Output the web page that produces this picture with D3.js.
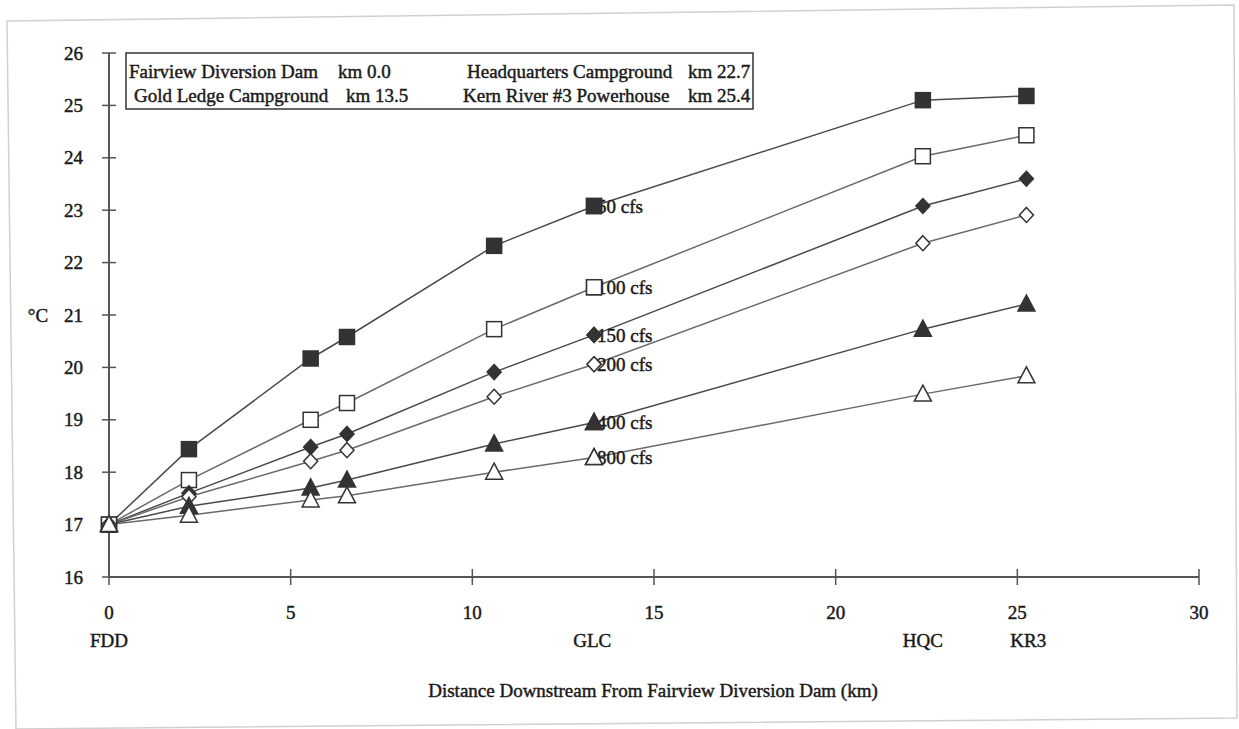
<!DOCTYPE html>
<html>
<head>
<meta charset="utf-8">
<script src="https://cdn.jsdelivr.net/npm/d3@7"></script>
<style>
  html, body { margin: 0; padding: 0; background: #fff; }
  svg text {
    font-family: "Liberation Serif", "DejaVu Serif", serif;
    font-size: 19px;
    fill: #1a1a1a;
    stroke: #1a1a1a;
    stroke-width: 0.45px;
  }
</style>
</head>
<body>
<div id="chart"></div>
<script>
// distance downstream (km) of sampling points
var distances = [0, 2.2, 5.55, 6.55, 10.6, 13.35, 22.4, 25.25];

// temperature (deg C) for each flow
var flows = ['50 cfs', '100 cfs', '150 cfs', '200 cfs', '400 cfs', '800 cfs'];
var t50  = [17.0, 18.44, 20.17, 20.58, 22.32, 23.08, 25.1, 25.18];
var t100 = [17.0, 17.85, 19.0, 19.32, 20.73, 21.53, 24.03, 24.43];
var t150 = [17.0, 17.6, 18.48, 18.73, 19.91, 20.62, 23.08, 23.6];
var t200 = [17.0, 17.53, 18.21, 18.42, 19.44, 20.06, 22.37, 22.91];
var t400 = [17.0, 17.35, 17.7, 17.85, 18.54, 18.95, 20.73, 21.21];
var t800 = [17.0, 17.18, 17.47, 17.55, 18.0, 18.28, 19.49, 19.84];
var markers = ['squareFilled', 'squareOpen', 'diamondFilled', 'diamondOpen', 'triangleFilled', 'triangleOpen'];

var xTicks = [0, 5, 10, 15, 20, 25, 30];
var yTicks = [16, 17, 18, 19, 20, 21, 22, 23, 24, 25, 26];

var siteCodes = ['FDD', 'GLC', 'HQC', 'KR3'];
var siteCodeX = [0, 13.3, 22.4, 25.3];

var legendNames = ['Fairview Diversion Dam', 'Gold Ledge Campground', 'Headquarters Campground', 'Kern River #3 Powerhouse'];
var legendKm = ['km 0.0', 'km 13.5', 'km 22.7', 'km 25.4'];

var width = 1239, height = 729;

var svg = d3.select('#chart').append('svg')
  .attr('width', width)
  .attr('height', height);

// scanned page frame
svg.append('path')
  .attr('d', 'M7,21 L1234,5 L1237,718 L16,729 Z')
  .attr('fill', 'none')
  .attr('stroke', '#d0d0d0')
  .attr('stroke-width', 1.5);

var x = d3.scaleLinear().domain([0, 30]).range([109, 1199]);
var y = d3.scaleLinear().domain([16, 26]).range([577, 53]);

var axisColor = '#555';

// x axis
svg.append('line')
  .attr('x1', x(0)).attr('x2', x(30))
  .attr('y1', y(16)).attr('y2', y(16))
  .attr('stroke', axisColor).attr('stroke-width', 2);

svg.selectAll('.xtick')
  .data(xTicks)
.enter().append('line')
  .attr('class', 'xtick')
  .attr('x1', function(d) { return x(d); })
  .attr('x2', function(d) { return x(d); })
  .attr('y1', y(16) - 8)
  .attr('y2', y(16) + 8)
  .attr('stroke', axisColor).attr('stroke-width', 1.5);

svg.selectAll('.xlabel')
  .data(xTicks)
.enter().append('text')
  .attr('class', 'xlabel')
  .attr('x', function(d) { return x(d); })
  .attr('y', 619)
  .attr('text-anchor', 'middle')
  .text(function(d) { return d; });

svg.selectAll('.site')
  .data(siteCodes)
.enter().append('text')
  .attr('class', 'site')
  .attr('x', function(d, i) { return x(siteCodeX[i]); })
  .attr('y', 647)
  .attr('text-anchor', 'middle')
  .text(function(d) { return d; });

svg.append('text')
  .attr('x', 653)
  .attr('y', 697)
  .attr('text-anchor', 'middle')
  .text('Distance Downstream From Fairview Diversion Dam (km)');

// y axis
svg.append('line')
  .attr('x1', x(0)).attr('x2', x(0))
  .attr('y1', y(16)).attr('y2', y(26))
  .attr('stroke', axisColor).attr('stroke-width', 2);

svg.selectAll('.ytick')
  .data(yTicks)
.enter().append('line')
  .attr('class', 'ytick')
  .attr('x1', x(0) - 7)
  .attr('x2', x(0) + 7)
  .attr('y1', function(d) { return y(d); })
  .attr('y2', function(d) { return y(d); })
  .attr('stroke', axisColor).attr('stroke-width', 1.5);

svg.selectAll('.ylabel')
  .data(yTicks)
.enter().append('text')
  .attr('class', 'ylabel')
  .attr('x', 83)
  .attr('y', function(d) { return y(d); })
  .attr('dy', '0.35em')
  .attr('text-anchor', 'end')
  .text(function(d) { return d; });

svg.append('text')
  .attr('x', 38)
  .attr('y', y(21))
  .attr('dy', '0.35em')
  .attr('text-anchor', 'middle')
  .text('\u00B0C');

// legend box
svg.append('rect')
  .attr('x', 126).attr('y', 53)
  .attr('width', 627).attr('height', 56)
  .attr('fill', '#fff')
  .attr('stroke', '#333').attr('stroke-width', 1.5);

var legX = [129, 134, 467, 463];
var legKmX = [338, 346, 688, 688];
var legY = [78, 102, 78, 102];

legendNames.forEach(function(name, i) {
  svg.append('text')
    .attr('x', legX[i]).attr('y', legY[i])
    .text(name);
  svg.append('text')
    .attr('x', legKmX[i]).attr('y', legY[i])
    .text(legendKm[i]);
});

// series
var seriesData = [t50, t100, t150, t200, t400, t800];

var line = d3.line()
  .x(function(d, i) { return x(distances[i]); })
  .y(function(d) { return y(d); });

seriesData.forEach(function(vals, k) {
  svg.append('path')
    .datum(vals)
    .attr('fill', 'none')
    .attr('stroke', k % 2 === 0 ? '#4a4a4a' : '#6a6a6a')
    .attr('stroke-width', 1.5)
    .attr('d', line);
});

function drawMarker(g, type, cx, cy) {
  var filled = type.indexOf('Filled') > 0;
  var fill = filled ? '#333' : '#fff';
  var el;
  if (type.indexOf('square') === 0) {
    el = g.append('rect')
      .attr('x', cx - 7.5).attr('y', cy - 7.5)
      .attr('width', 15).attr('height', 15);
  } else if (type.indexOf('diamond') === 0) {
    el = g.append('path')
      .attr('d', 'M' + cx + ',' + (cy - 7.5) + 'L' + (cx + 7) + ',' + cy + 'L' + cx + ',' + (cy + 7.5) + 'L' + (cx - 7) + ',' + cy + 'Z');
  } else {
    el = g.append('path')
      .attr('d', 'M' + cx + ',' + (cy - 9) + 'L' + (cx + 8.5) + ',' + (cy + 7) + 'L' + (cx - 8.5) + ',' + (cy + 7) + 'Z');
  }
  el.attr('fill', fill).attr('stroke', '#333').attr('stroke-width', 1.5);
}

seriesData.forEach(function(vals, k) {
  var g = svg.append('g').attr('class', 'series-' + k);
  vals.forEach(function(v, i) {
    drawMarker(g, markers[k], x(distances[i]), y(v));
  });
});

// flow labels next to the GLC point
seriesData.forEach(function(vals, k) {
  svg.append('text')
    .attr('x', x(distances[5]) + 3)
    .attr('y', y(vals[5]))
    .attr('dy', '0.35em')
    .text(flows[k]);
});

// redraw GLC markers over labels
seriesData.forEach(function(vals, k) {
  drawMarker(svg, markers[k], x(distances[5]), y(vals[5]));
});
</script>
</body>
</html>
